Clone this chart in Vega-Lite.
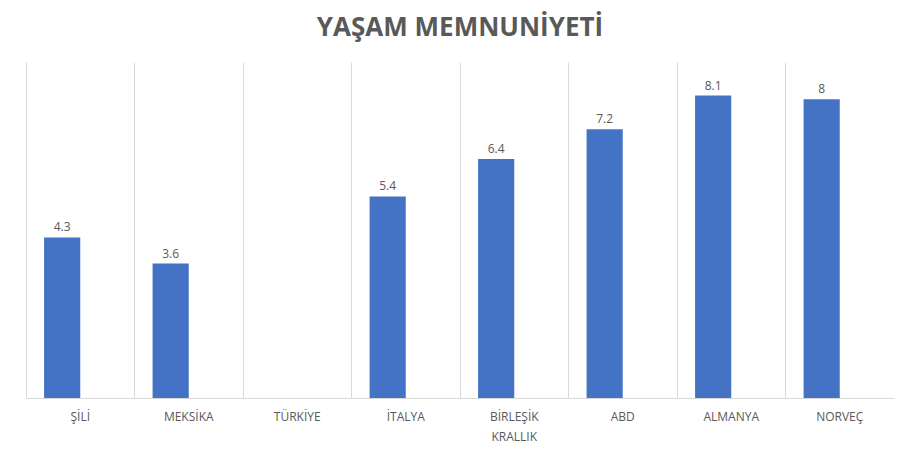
{
  "$schema": "https://vega.github.io/schema/vega-lite/v6.json",
  "width": 868,
  "height": 336,
  "autosize": {"type": "none"},
  "padding": {"left": 26, "top": 62, "right": 11, "bottom": 71},
  "background": "white",
  "title": {
    "text": "YAŞAM MEMNUNİYETİ",
    "font": "Open Sans",
    "fontSize": 26,
    "fontWeight": "bold",
    "color": "#595959",
    "anchor": "middle",
    "baseline": "alphabetic",
    "offset": 0
  },
  "data": {
    "values": [
      {"ulke": "ŞİLİ", "deger": 4.3, "seri": "a"},
      {"ulke": "MEKSİKA", "deger": 3.6, "seri": "a"},
      {"ulke": "TÜRKİYE", "deger": null, "seri": "a"},
      {"ulke": "İTALYA", "deger": 5.4, "seri": "a"},
      {"ulke": "BİRLEŞİK KRALLIK", "deger": 6.4, "seri": "a"},
      {"ulke": "ABD", "deger": 7.2, "seri": "a"},
      {"ulke": "ALMANYA", "deger": 8.1, "seri": "a"},
      {"ulke": "NORVEÇ", "deger": 8, "seri": "a"}
    ]
  },
  "encoding": {
    "x": {
      "field": "ulke",
      "type": "nominal",
      "sort": null,
      "scale": {
        "domain": ["ŞİLİ", "MEKSİKA", "TÜRKİYE", "İTALYA", "BİRLEŞİK KRALLIK", "ABD", "ALMANYA", "NORVEÇ"],
        "paddingInner": 0,
        "paddingOuter": 0
      },
      "axis": {
        "title": null,
        "labelAngle": 0,
        "labelFont": "Open Sans",
        "labelFontSize": 12,
        "labelColor": "#595959",
        "labelPadding": 13,
        "labelBaseline": "top",
        "labelLineHeight": 20,
        "labelExpr": "datum.label == 'BİRLEŞİK KRALLIK' ? ['BİRLEŞİK', 'KRALLIK'] : datum.label",
        "ticks": false,
        "domain": true,
        "domainColor": "#d9d9d9",
        "domainWidth": 1,
        "grid": true,
        "gridColor": "#d9d9d9",
        "gridWidth": 1,
        "bandPosition": 0
      }
    },
    "xOffset": {
      "field": "seri",
      "type": "nominal",
      "scale": {"domain": ["a", "b"], "paddingInner": 0, "paddingOuter": 0.5}
    },
    "y": {
      "field": "deger",
      "type": "quantitative",
      "scale": {"domain": [0, 9]},
      "axis": null
    }
  },
  "layer": [
    {
      "mark": {"type": "bar", "color": "#4472C4"}
    },
    {
      "mark": {
        "type": "text",
        "baseline": "bottom",
        "dy": -3,
        "font": "Open Sans",
        "fontSize": 12,
        "color": "#595959"
      },
      "encoding": {
        "text": {"field": "deger", "type": "quantitative"}
      }
    }
  ],
  "config": {
    "view": {"stroke": null}
  }
}
